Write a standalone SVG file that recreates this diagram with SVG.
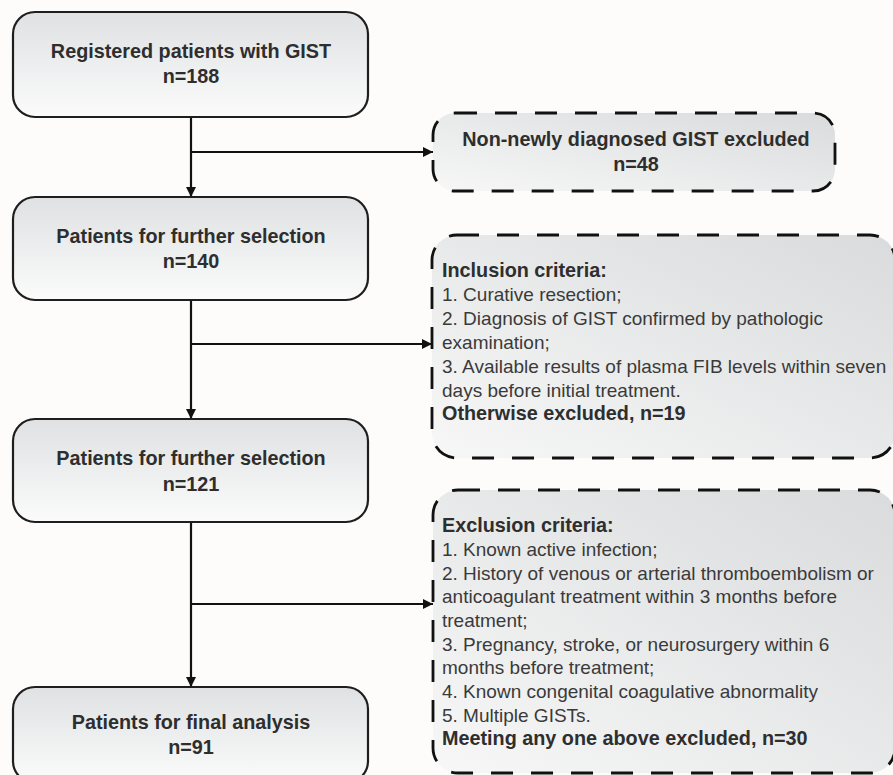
<svg xmlns="http://www.w3.org/2000/svg" width="893" height="775" viewBox="0 0 893 775">
<defs>
<linearGradient id="gSolid" x1="0" y1="0" x2="0" y2="1">
<stop offset="0" stop-color="#dfe1e2"/>
<stop offset="1" stop-color="#fbfbfb"/>
</linearGradient>
<linearGradient id="gDash" x1="0" y1="1" x2="1" y2="0">
<stop offset="0" stop-color="#f7f7f7"/>
<stop offset="1" stop-color="#d9dbdc"/>
</linearGradient>
<marker id="arr" viewBox="0 0 10 10" refX="10" refY="5" markerWidth="10" markerHeight="10" markerUnits="userSpaceOnUse" orient="auto">
<path d="M0,0 L10,5 L0,10 z" fill="#111"/>
</marker>
<style>
.solid{fill:url(#gSolid);stroke:#1e1e1e;stroke-width:2.2}
.dash{fill:url(#gDash);stroke:#111;stroke-width:2.8;stroke-dasharray:22 18}
.bt{font-family:"Liberation Sans",Arial,sans-serif;font-weight:bold;font-size:19.8px;fill:#2e2e2e}
.nt{font-family:"Liberation Sans",Arial,sans-serif;font-size:19px;fill:#3a3a3a}
.c{text-anchor:middle}
.ln{stroke:#111;stroke-width:2.2;fill:none}
</style>
</defs>
<rect width="893" height="775" fill="#fdfcfb"/>
<g id="connectors">
<line class="ln" x1="191" y1="117" x2="191" y2="197" marker-end="url(#arr)"/>
<line class="ln" x1="191" y1="152" x2="433" y2="152" marker-end="url(#arr)"/>
<line class="ln" x1="191" y1="300" x2="191" y2="419" marker-end="url(#arr)"/>
<line class="ln" x1="191" y1="344" x2="432" y2="344" marker-end="url(#arr)"/>
<line class="ln" x1="191" y1="522" x2="191" y2="687" marker-end="url(#arr)"/>
<line class="ln" x1="191" y1="604" x2="433" y2="604" marker-end="url(#arr)"/>
</g>
<g id="registered">
<rect class="solid" x="13" y="12" width="355" height="105" rx="22"/>
<text class="bt c" x="191" y="58">Registered patients with GIST</text>
<text class="bt c" x="191" y="83">n=188</text>
</g>
<g id="further140">
<rect class="solid" x="13" y="197" width="355" height="103" rx="22"/>
<text class="bt c" x="191" y="243">Patients for further selection</text>
<text class="bt c" x="191" y="268">n=140</text>
</g>
<g id="further121">
<rect class="solid" x="13" y="419" width="355" height="103" rx="22"/>
<text class="bt c" x="191" y="465">Patients for further selection</text>
<text class="bt c" x="191" y="491">n=121</text>
</g>
<g id="final">
<rect class="solid" x="13" y="687" width="355" height="96" rx="22"/>
<text class="bt c" x="191" y="729">Patients for final analysis</text>
<text class="bt c" x="191" y="754">n=91</text>
</g>
<g id="nonnewly">
<rect class="dash" x="433" y="113" width="402" height="78" rx="22"/>
<text class="bt c" x="636" y="146">Non-newly diagnosed GIST excluded</text>
<text class="bt c" x="636" y="171">n=48</text>
</g>
<g id="inclusion">
<rect class="dash" x="432" y="235" width="463" height="223" rx="25"/>
<text class="bt" x="442" y="277">Inclusion criteria:</text>
<text class="nt" x="442" y="301">1. Curative resection;</text>
<text class="nt" x="442" y="325">2. Diagnosis of GIST confirmed by pathologic</text>
<text class="nt" x="442" y="349">examination;</text>
<text class="nt" x="442" y="373">3. Available results of plasma FIB levels within seven</text>
<text class="nt" x="442" y="397">days before initial treatment.</text>
<text class="bt" x="442" y="420">Otherwise excluded, n=19</text>
</g>
<g id="exclusion">
<rect class="dash" x="433" y="490" width="462" height="283" rx="25"/>
<text class="bt" x="442" y="532">Exclusion criteria:</text>
<text class="nt" x="442" y="556">1. Known active infection;</text>
<text class="nt" x="442" y="580">2. History of venous or arterial thromboembolism or</text>
<text class="nt" x="442" y="603">anticoagulant treatment within 3 months before</text>
<text class="nt" x="442" y="627">treatment;</text>
<text class="nt" x="442" y="651">3. Pregnancy, stroke, or neurosurgery within 6</text>
<text class="nt" x="442" y="674">months before treatment;</text>
<text class="nt" x="442" y="698">4. Known congenital coagulative abnormality</text>
<text class="nt" x="442" y="722">5. Multiple GISTs.</text>
<text class="bt" x="442" y="745">Meeting any one above excluded, n=30</text>
</g>
</svg>
